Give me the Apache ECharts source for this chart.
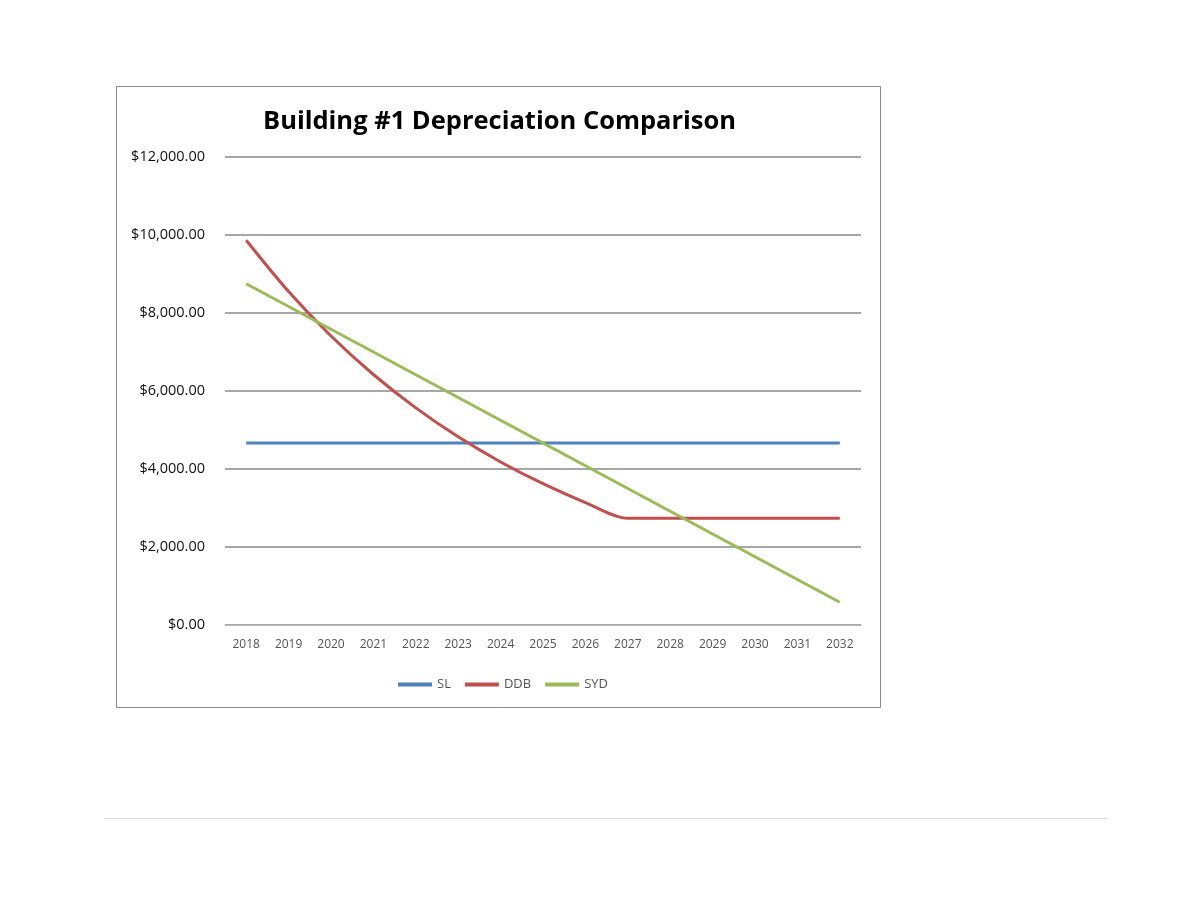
<!DOCTYPE html>
<html>
<head>
<meta charset="utf-8">
<title>Building #1 Depreciation Comparison</title>
<script src="https://cdn.jsdelivr.net/npm/echarts@6/dist/echarts.min.js"></script>
<style>
  html, body { margin: 0; padding: 0; background: #fff; }
  #main { width: 1180px; height: 911px; }
</style>
</head>
<body>
<div id="main"></div>
<script>
// years of the depreciation schedule
var years = ['2018', '2019', '2020', '2021', '2022', '2023', '2024', '2025',
             '2026', '2027', '2028', '2029', '2030', '2031', '2032'];
// straight line
var slData = [4666.67, 4666.67, 4666.67, 4666.67, 4666.67, 4666.67, 4666.67, 4666.67,
              4666.67, 4666.67, 4666.67, 4666.67, 4666.67, 4666.67, 4666.67];
// double declining balance
var ddbData = [9866.67, 8551.11, 7410.96, 6422.83, 5566.46, 4824.26, 4181.03, 3623.56,
               3140.41, 2735.45, 2735.45, 2735.45, 2735.45, 2735.45, 2735.45];
// sum of years digits
var sydData = [8750.00, 8166.67, 7583.33, 7000.00, 6416.67, 5833.33, 5250.00, 4666.67,
               4083.33, 3500.00, 2916.67, 2333.33, 1750.00, 1166.67, 583.33];

var myChart = echarts.init(document.getElementById('main'));

var fontFam = '"Open Sans", "Noto Sans", sans-serif';

var option = {
  backgroundColor: '#fff',
  animation: false,
  title: {
    text: 'Building #1 Depreciation Comparison',
    left: 258,
    top: 104,
    textStyle: { fontFamily: fontFam, fontSize: 25.5, fontWeight: 'bold', color: '#000' }
  },
  legend: {
    data: ['SL', 'DDB', 'SYD'],
    left: 393,
    top: 673,
    itemWidth: 34,
    itemHeight: 4,
    itemGap: 14,
    icon: 'rect',
    textStyle: { fontFamily: fontFam, fontSize: 13, color: '#555' }
  },
  grid: { left: 225, right: 319, top: 157, bottom: 286 },
  xAxis: {
    type: 'category',
    data: years,
    boundaryGap: true,
    axisLine: { lineStyle: { color: '#bbb', width: 1 } },
    axisTick: { show: false },
    axisLabel: { fontFamily: fontFam, fontSize: 12, color: '#555', margin: 14, interval: 0 }
  },
  yAxis: {
    type: 'value',
    min: 0,
    max: 12000,
    interval: 2000,
    axisLine: { show: false },
    axisTick: { show: false },
    axisLabel: {
      fontFamily: fontFam, fontSize: 14.5, color: '#111', margin: 20,
      formatter: function (v) {
        return '$' + v.toLocaleString('en-US', { minimumFractionDigits: 2, maximumFractionDigits: 2 });
      }
    },
    splitLine: { lineStyle: { color: '#8a8a8a', width: 1.5 } }
  },
  graphic: [
    {
      type: 'rect',
      shape: { x: 116.5, y: 86.5, width: 764, height: 621 },
      style: { fill: 'none', stroke: '#8a8a8a', lineWidth: 1 },
      z: -1
    },
    {
      type: 'line',
      shape: { x1: 104, y1: 818.5, x2: 1108, y2: 818.5 },
      style: { stroke: '#e0e0e0', lineWidth: 1 }
    }
  ],
  series: [
    {
      name: 'SL',
      type: 'line',
      data: slData,
      showSymbol: false,
      lineStyle: { width: 3, color: '#4F81BD' },
      itemStyle: { color: '#4F81BD' }
    },
    {
      name: 'DDB',
      type: 'line',
      data: ddbData,
      smooth: 0.3,
      showSymbol: false,
      lineStyle: { width: 3, color: '#C0504D' },
      itemStyle: { color: '#C0504D' }
    },
    {
      name: 'SYD',
      type: 'line',
      data: sydData,
      showSymbol: false,
      lineStyle: { width: 3, color: '#9BBB59' },
      itemStyle: { color: '#9BBB59' }
    }
  ]
};

myChart.setOption(option);
</script>
</body>
</html>
